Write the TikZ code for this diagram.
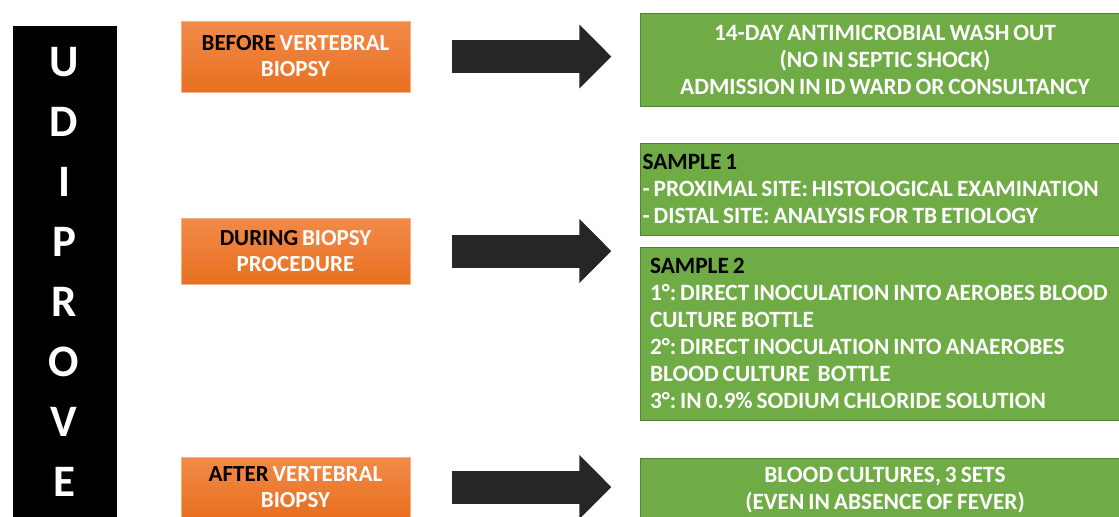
\documentclass[tikz,border=0pt]{standalone}
\usepackage{fontspec}
\setmainfont{Carlito}[WordSpace=0.75]
\usetikzlibrary{arrows.meta, positioning}
\definecolor{orngline}{HTML}{F4B183}
\definecolor{orngtop}{HTML}{F28A4A}
\definecolor{orngbot}{HTML}{E8701F}
\definecolor{grn}{HTML}{6FAC46}
\definecolor{grnline}{HTML}{548235}
\definecolor{dark}{HTML}{262626}

\begin{document}
\begin{tikzpicture}[x=0.6pt, y=-0.6pt,
  stage/.style={draw=orngline, top color=orngtop, bottom color=orngbot, text=white, align=center,
    font=\bfseries\fontsize{13.8}{15.6}\selectfont\frenchspacing, minimum width=137.4pt, inner sep=0pt},
  todo/.style={draw=grnline, fill=grn, text=white, font=\bfseries\fontsize{14}{16.2}\selectfont\frenchspacing,
    minimum width=294pt, inner sep=0pt},
  letter/.style={text=white, font=\bfseries\fontsize{27}{27}\selectfont, inner sep=0pt},
  big/.style={dark, line width=19.8pt, -{Triangle[length=19.2pt, width=37.2pt]}}]
\useasboundingbox (0,0) rectangle (1119,516);
\clip (0,0) rectangle (1119,516);
\node[fill=black, minimum width=62.4pt, minimum height=298pt, inner sep=0pt] (bar) at (65,274) {};
\foreach \l [count=\i] in {U,D,I,P,R,O,V,E}
  \node[letter] (L\i) at (64,2+60*\i) {\l};
\node[stage, minimum height=42.6pt] (B) at (295.5,56.5) {{\color{black}BEFORE} VERTEBRAL\\BIOPSY};
\node[stage, minimum height=39.6pt] (D) at (295.5,251) {{\color{black}DURING} BIOPSY\\PROCEDURE};
\node[stage, minimum height=36pt] (A) at (295.5,487) {{\color{black}AFTER} VERTEBRAL\\BIOPSY};
\node[todo, align=center, minimum height=55.8pt] (W) at (885,59.5)
  {14-DAY ANTIMICROBIAL WASH OUT\\(NO IN SEPTIC SHOCK)\\ADMISSION IN ID WARD OR CONSULTANCY};
\node[todo, align=flush left, inner xsep=1.5pt, text width=291pt, minimum height=55.2pt] (S1) at (885,189)
  {{\color{black}SAMPLE 1}\\- PROXIMAL SITE: HISTOLOGICAL EXAMINATION\\- DISTAL SITE: ANALYSIS FOR TB ETIOLOGY};
\node[todo, align=flush left, inner xsep=6pt, text width=282pt, minimum height=103.8pt] (S2) at (885,333.5)
  {{\color{black}SAMPLE 2}\\1°: DIRECT INOCULATION INTO AEROBES BLOOD\\CULTURE BOTTLE\\2°: DIRECT INOCULATION INTO ANAEROBES\\BLOOD CULTURE~ BOTTLE\\3°: IN 0.9\% SODIUM CHLORIDE SOLUTION};
\node[todo, align=center, minimum height=38.4pt] (C) at (885,490)
  {BLOOD CULTURES, 3 SETS\\(EVEN IN ABSENCE OF FEVER)};
\draw[big] ([xshift=25.2pt]B.east) -- ([xshift=-17pt]B.east -| W.west);
\draw[big] ([xshift=25.2pt]D.east) -- ([xshift=-17pt]D.east -| S1.west);
\draw[big] ([xshift=25.2pt]A.east) -- ([xshift=-17pt]A.east -| C.west);
\end{tikzpicture}
\end{document}
